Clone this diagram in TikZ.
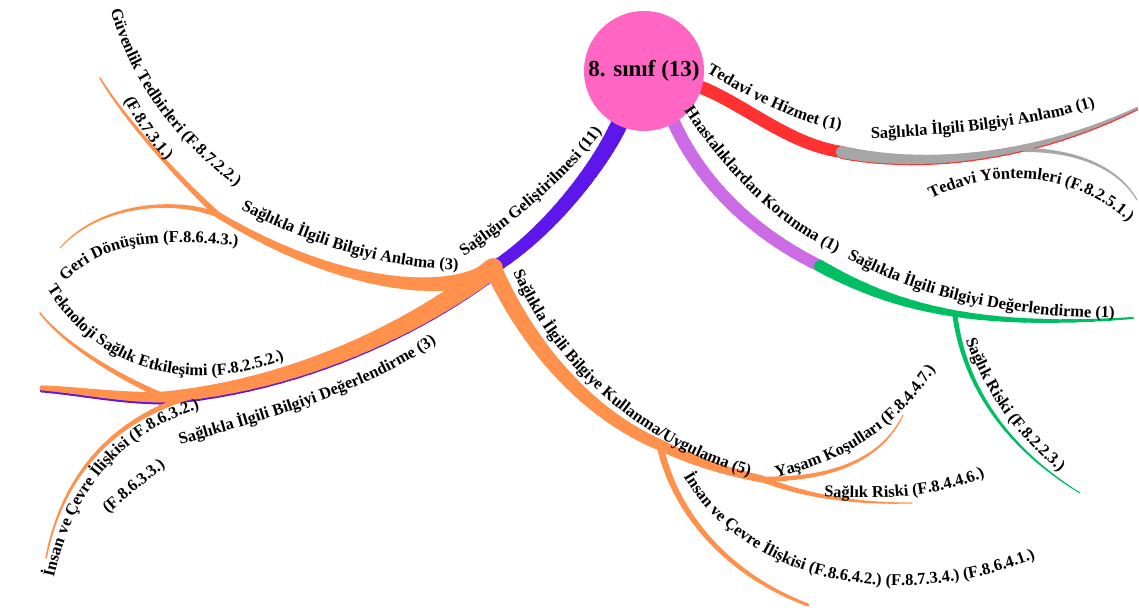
\documentclass[tikz,border=0pt]{standalone}
\usepackage{fontspec}
\setmainfont{Liberation Serif}
\usetikzlibrary{calc,decorations.text}
\definecolor{pinkc}{HTML}{FF66C4}
\definecolor{purplec}{HTML}{5E17EB}
\definecolor{redc}{HTML}{FF3131}
\definecolor{grayc}{HTML}{A6A6A6}
\definecolor{violetc}{HTML}{CB6CE6}
\definecolor{greenc}{HTML}{00BF63}
\definecolor{orangec}{HTML}{FF914D}
\def\lblfont{\fontsize{16.5}{19}\selectfont\bfseries}
\def\nseg{24}
\pgfdeclarelayer{back}
\pgfsetlayers{back,main}
\newcommand\branch[6]{%
  \foreach \k [evaluate=\k as \segA using (\k-1)/\nseg,
               evaluate=\k as \segB using \k/\nseg,
               evaluate=\k as \segW using #2+(#3-#2)*(\k-0.5)/\nseg] in {1,...,\nseg} {
    \path (#4) .. controls #5 .. (#6) coordinate[pos=\segA] (bp) coordinate[pos=\segB] (bq);
    \draw[#1,line cap=round,line width=\segW pt] (bp) -- (bq);
  }}

\begin{document}
\begin{tikzpicture}[x=1pt,y=-1pt,
  lbl/.style={decorate,decoration={text along path,text align=center,text={|\lblfont|#1}}}]
\useasboundingbox (0,0) rectangle (1139,610);
\node[circle,fill=pinkc,minimum size=120pt,inner sep=0pt,font=\fontsize{23}{26}\selectfont\bfseries] (root) at (644,71) {8. sınıf (13)};
\coordinate (hub) at (493,268);
\coordinate (gs) at (218,215);
\coordinate (gt) at (100,78);
\coordinate (gd) at (60,248);
\coordinate (bs) at (165,397);
\coordinate (bi) at (207,392);
\coordinate (bend) at (42,388);
\coordinate (ts) at (40,313);
\coordinate (ic) at (46,558);
\coordinate (cm) at (660,445);
\coordinate (ce) at (762,479);
\coordinate (ic2) at (808,605);
\coordinate (yk) at (903,415);
\coordinate (sr2) at (912,503);
\coordinate (rd) at (842,152);
\coordinate (gend) at (1137,108);
\coordinate (gty) at (1024,150);
\coordinate (ty) at (1137,200);
\coordinate (vd) at (820,266);
\coordinate (grend) at (1133,318);
\coordinate (gsr) at (955,316);
\coordinate (sr1) at (1080,493);

\begin{pgfonlayer}{back}
\branch{purplec}{17}{12}{root.-115}{(600,165) and (550,232)}{hub}
\branch{purplec}{17}{10}{$(hub)+(0,2.5)$}{(420,327.5) and (300,387.5)}{$(bs)+(0,2.5)$}
\branch{purplec}{10}{4}{$(bs)+(0,2.5)$}{(120,400.5) and (80,392.5)}{$(bend)+(0,2.5)$}
\branch{orangec}{18}{6}{hub}{(460,295) and (350,295)}{gs}
\branch{orangec}{6}{1.5}{gs}{(180,180) and (125,120)}{gt}
\branch{orangec}{5}{1}{gs}{(175,198) and (100,203)}{gd}
\branch{orangec}{20}{11}{hub}{(420,325) and (300,385)}{bs}
\branch{orangec}{11}{5}{bs}{(120,398) and (80,390)}{bend}
\branch{orangec}{6}{1.5}{bs}{(120,378) and (65,345)}{ts}
\branch{orangec}{6}{1.5}{bi}{(130,410) and (65,460)}{ic}
\branch{orangec}{17}{11}{hub}{(530,350) and (590,415)}{cm}
\branch{orangec}{11}{7}{cm}{(695,462) and (728,472)}{ce}
\branch{orangec}{7}{3}{cm}{(672,505) and (720,572)}{ic2}
\branch{orangec}{5}{1}{ce}{(830,480) and (882,460)}{yk}
\branch{orangec}{6}{1}{ce}{(805,496) and (855,504)}{sr2}
\branch{redc}{13}{12}{root.-16}{(745,105) and (790,145)}{rd}
\branch{redc}{11}{2}{$(rd)+(0,1.5)$}{(930,171.5) and (1040,156.5)}{$(gend)+(0,1.5)$}
\branch{grayc}{12}{2}{rd}{(930,170) and (1040,155)}{gend}
\branch{grayc}{4}{1}{gty}{(1080,150) and (1120,170)}{ty}
\branch{violetc}{13}{12}{root.-60}{(700,180) and (750,232)}{vd}
\branch{greenc}{12}{2}{vd}{(890,305) and (970,330)}{grend}
\branch{greenc}{5}{1}{gsr}{(965,390) and (1010,450)}{sr1}
\end{pgfonlayer}

\path[lbl={Tedavi ve Hizmet (1)}] (699,68) .. controls (750,98) and (795,124) .. (849,131);
\path[lbl={Sağlıkla İlgili Bilgiyi Anlama (1)}] (860,139) .. controls (950,136) and (1040,126) .. (1106,103);
\path[lbl={Tedavi Yöntemleri (F.8.2.5.1.)}] (923,203) .. controls (990,165) and (1080,170) .. (1135,229);
\path[lbl={Haastalıklardan Korunma (1)}] (679,103) .. controls (724,172) and (776,226) .. (845,257);
\path[lbl={Sağlıkla İlgili Bilgiyi Değerlendirme (1)}] (836,252) .. controls (903,291) and (993,319) .. (1127,318);
\path[lbl={Sağlık Riski (F.8.2.2.3.)}] (960,325) .. controls (983,390) and (1010,432) .. (1072,482);
\path[lbl={Sağlığın Geliştirilmesi (11)}] (455,263) .. controls (510,225) and (570,180) .. (608,122);
\path[lbl={Sağlıkla İlgili Bilgiyi Anlama (3)}] (232,205) .. controls (300,240) and (380,270) .. (468,270);
\path[lbl={Güvenlik Tedbirleri (F.8.7.2.2.)}] (108,0) .. controls (126,75) and (171,140) .. (245,193);
\path[lbl={(F.8.7.3.1.)}] (121,95) .. controls (135,120) and (150,145) .. (171,165);
\path[lbl={Geri Dönüşüm (F.8.6.4.3.)}] (60,288) .. controls (95,245) and (150,235) .. (246,247);
\path[lbl={Teknoloji Sağlık Etkileşimi (F.8.2.5.2.)}] (41,278) .. controls (90,370) and (190,400) .. (296,355);
\path[lbl={Sağlıkla İlgili Bilgiyi Değerlendirme (3)}] (169,448) .. controls (270,418) and (370,392) .. (446,336);
\path[lbl={İnsan ve Çevre İlişkisi (F.8.6.3.2.)}] (51,592) .. controls (70,490) and (120,430) .. (214,404);
\path[lbl={(F.8.6.3.3.)}] (102,519) .. controls (122,501) and (147,481) .. (172,461);
\path[lbl={Sağlıkla İlgili Bilgiye Kullanma/Uygulama (5)}] (507,257) .. controls (545,360) and (640,450) .. (765,480);
\path[lbl={Yaşam Koşulları (F.8.4.4.7.)}] (762,481) .. controls (840,465) and (900,430) .. (943,357);
\path[lbl={Sağlık Riski (F.8.4.4.6.)}] (813,496) .. controls (870,500) and (940,500) .. (995,472);
\path[lbl={İnsan ve Çevre İlişkisi (F.8.6.4.2.) (F.8.7.3.4.) (F.8.6.4.1.)}] (676,462) .. controls (735,585) and (905,618) .. (1050,552);
\end{tikzpicture}
\end{document}
